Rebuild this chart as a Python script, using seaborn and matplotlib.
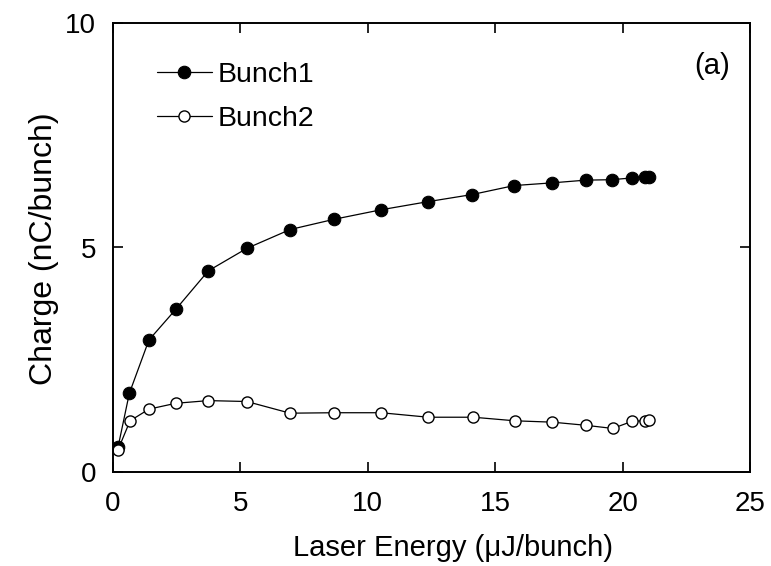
import matplotlib
matplotlib.use("Agg")
import matplotlib.pyplot as plt
import seaborn as sns
import pandas as pd

# Data
energy1 = [0.2, 0.64, 1.41, 2.46, 3.74, 5.25, 6.95, 8.69, 10.52, 12.35, 14.10, 15.75, 17.24, 18.55, 19.57, 20.38, 20.88, 21.05]
bunch1 = [0.56, 1.75, 2.94, 3.62, 4.48, 4.98, 5.40, 5.63, 5.84, 6.02, 6.18, 6.38, 6.44, 6.50, 6.51, 6.55, 6.57, 6.57]
energy2 = [0.2, 0.67, 1.41, 2.46, 3.74, 5.25, 6.95, 8.69, 10.52, 12.37, 14.14, 15.78, 17.24, 18.56, 19.61, 20.38, 20.88, 21.05]
bunch2 = [0.50, 1.14, 1.40, 1.53, 1.59, 1.57, 1.31, 1.32, 1.32, 1.22, 1.22, 1.14, 1.11, 1.04, 0.97, 1.13, 1.14, 1.16]
xticks = [0, 5, 10, 15, 20, 25]
yticks = [0, 5, 10]

sns.set_style("ticks")
plt.rcParams['font.family'] = ['Liberation Sans', 'DejaVu Sans']
plt.rcParams['text.color'] = 'black'
plt.rcParams['axes.labelcolor'] = 'black'
plt.rcParams['xtick.color'] = 'black'
plt.rcParams['ytick.color'] = 'black'

df1 = pd.DataFrame({"x": energy1, "y": bunch1})
df2 = pd.DataFrame({"x": energy2, "y": bunch2})

fig = plt.figure(figsize=(7.71, 5.66), dpi=100)
ax = fig.add_axes([113/771, 1 - 472/566, (750-113)/771, (472-23)/566])

sns.lineplot(data=df1, x="x", y="y", ax=ax, color="black", linewidth=0.9,
             marker="o", markersize=9, markerfacecolor="black",
             markeredgecolor="black", markeredgewidth=0.8, label="Bunch1")
sns.lineplot(data=df2, x="x", y="y", ax=ax, color="black", linewidth=0.9,
             marker="o", markersize=8, markerfacecolor="white",
             markeredgecolor="black", markeredgewidth=1.0, label="Bunch2")

ax.set_xlim(0, 25)
ax.set_ylim(0, 10)
ax.set_xticks(xticks)
ax.set_yticks(yticks)
ax.tick_params(direction="in", length=7, width=1.2, top=True, right=True,
               labelsize=20, colors="black")
ax.tick_params(axis="x", pad=14)
ax.tick_params(axis="y", pad=12)
for s in ax.spines.values():
    s.set_linewidth(1.4)
    s.set_color("black")

ax.set_xlabel("Laser Energy (\u03bcJ/bunch)", fontsize=21)
ax.set_ylabel("Charge (nC/bunch)", fontsize=23)
ax.xaxis.set_label_coords(0.533, -0.138)
ax.yaxis.set_label_coords(-0.085, 0.497)

ax.text(0.94, 0.905, "(a)", transform=ax.transAxes, fontsize=21,
        ha="center", va="center")

leg = ax.legend(loc="upper left", bbox_to_anchor=(0.051, 0.938), frameon=False,
                fontsize=20.5, handlelength=1.93, handletextpad=0.21,
                labelspacing=0.61, borderaxespad=0)

fig.savefig("out.png", dpi=100)
